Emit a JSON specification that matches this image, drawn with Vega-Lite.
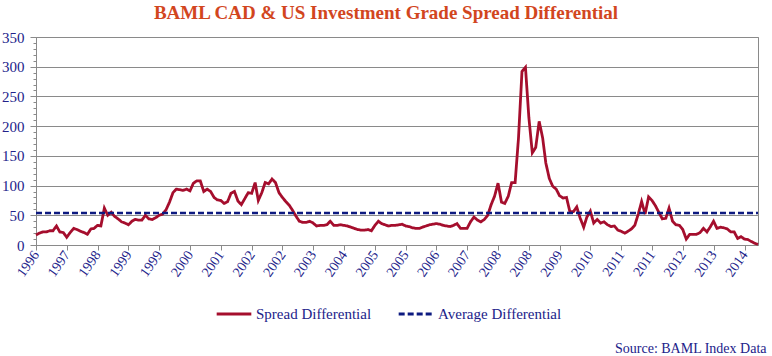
{
  "$schema": "https://vega.github.io/schema/vega-lite/v6.json",
  "width": 722,
  "height": 208,
  "autosize": {"type": "none"},
  "padding": {"left": 36, "top": 37, "right": 14, "bottom": 111},
  "background": "white",
  "title": {
    "text": "BAML CAD & US Investment Grade Spread Differential",
    "anchor": "middle",
    "dx": -11,
    "offset": 7,
    "font": "Liberation Serif, serif",
    "fontSize": 19,
    "fontWeight": "bold",
    "color": "#D2461E"
  },
  "config": {
    "font": "Liberation Serif, serif",
    "view": {"stroke": "#8a8a8a", "strokeWidth": 1},
    "axis": {
      "labelFont": "Liberation Serif, serif",
      "labelFontSize": 14,
      "labelColor": "#22228A",
      "domainColor": "#8a8a8a",
      "tickColor": "#8a8a8a"
    },
    "legend": {
      "labelFont": "Liberation Serif, serif",
      "labelFontSize": 14,
      "labelColor": "#22228A"
    }
  },
  "datasets": {
    "spread": [
      {"date": "1996-10-01", "value": 17}, {"date": "1996-11-01", "value": 20}, {"date": "1996-12-01", "value": 22},
      {"date": "1997-01-01", "value": 22}, {"date": "1997-02-01", "value": 24}, {"date": "1997-03-01", "value": 24}, {"date": "1997-04-01", "value": 32}, {"date": "1997-05-01", "value": 22}, {"date": "1997-06-01", "value": 21}, {"date": "1997-07-01", "value": 13}, {"date": "1997-08-01", "value": 21}, {"date": "1997-09-01", "value": 28}, {"date": "1997-10-01", "value": 26}, {"date": "1997-11-01", "value": 23}, {"date": "1997-12-01", "value": 21},
      {"date": "1998-01-01", "value": 18}, {"date": "1998-02-01", "value": 27}, {"date": "1998-03-01", "value": 28}, {"date": "1998-04-01", "value": 33}, {"date": "1998-05-01", "value": 32}, {"date": "1998-06-01", "value": 62}, {"date": "1998-07-01", "value": 50}, {"date": "1998-08-01", "value": 55}, {"date": "1998-09-01", "value": 48}, {"date": "1998-10-01", "value": 44}, {"date": "1998-11-01", "value": 39}, {"date": "1998-12-01", "value": 37},
      {"date": "1999-01-01", "value": 34}, {"date": "1999-02-01", "value": 40}, {"date": "1999-03-01", "value": 43}, {"date": "1999-04-01", "value": 42}, {"date": "1999-05-01", "value": 42}, {"date": "1999-06-01", "value": 50}, {"date": "1999-07-01", "value": 44}, {"date": "1999-08-01", "value": 43}, {"date": "1999-09-01", "value": 46}, {"date": "1999-10-01", "value": 50}, {"date": "1999-11-01", "value": 52}, {"date": "1999-12-01", "value": 59},
      {"date": "2000-01-01", "value": 72}, {"date": "2000-02-01", "value": 88}, {"date": "2000-03-01", "value": 94}, {"date": "2000-04-01", "value": 93}, {"date": "2000-05-01", "value": 92}, {"date": "2000-06-01", "value": 94}, {"date": "2000-07-01", "value": 91}, {"date": "2000-08-01", "value": 104}, {"date": "2000-09-01", "value": 108}, {"date": "2000-10-01", "value": 108}, {"date": "2000-11-01", "value": 90}, {"date": "2000-12-01", "value": 94},
      {"date": "2001-01-01", "value": 90}, {"date": "2001-02-01", "value": 80}, {"date": "2001-03-01", "value": 76}, {"date": "2001-04-01", "value": 75}, {"date": "2001-05-01", "value": 70}, {"date": "2001-06-01", "value": 73}, {"date": "2001-07-01", "value": 87}, {"date": "2001-08-01", "value": 90}, {"date": "2001-09-01", "value": 74}, {"date": "2001-10-01", "value": 68}, {"date": "2001-11-01", "value": 78}, {"date": "2001-12-01", "value": 88},
      {"date": "2002-01-01", "value": 87}, {"date": "2002-02-01", "value": 105}, {"date": "2002-03-01", "value": 75}, {"date": "2002-04-01", "value": 88}, {"date": "2002-05-01", "value": 105}, {"date": "2002-06-01", "value": 103}, {"date": "2002-07-01", "value": 111}, {"date": "2002-08-01", "value": 105}, {"date": "2002-09-01", "value": 88}, {"date": "2002-10-01", "value": 80}, {"date": "2002-11-01", "value": 73}, {"date": "2002-12-01", "value": 67},
      {"date": "2003-01-01", "value": 58}, {"date": "2003-02-01", "value": 48}, {"date": "2003-03-01", "value": 40}, {"date": "2003-04-01", "value": 38}, {"date": "2003-05-01", "value": 38}, {"date": "2003-06-01", "value": 40}, {"date": "2003-07-01", "value": 37}, {"date": "2003-08-01", "value": 32}, {"date": "2003-09-01", "value": 33}, {"date": "2003-10-01", "value": 33}, {"date": "2003-11-01", "value": 34}, {"date": "2003-12-01", "value": 40},
      {"date": "2004-01-01", "value": 33}, {"date": "2004-02-01", "value": 33}, {"date": "2004-03-01", "value": 34}, {"date": "2004-04-01", "value": 33}, {"date": "2004-05-01", "value": 32}, {"date": "2004-06-01", "value": 30}, {"date": "2004-07-01", "value": 28}, {"date": "2004-08-01", "value": 26}, {"date": "2004-09-01", "value": 25}, {"date": "2004-10-01", "value": 25}, {"date": "2004-11-01", "value": 26}, {"date": "2004-12-01", "value": 24},
      {"date": "2005-01-01", "value": 33}, {"date": "2005-02-01", "value": 40}, {"date": "2005-03-01", "value": 36}, {"date": "2005-04-01", "value": 34}, {"date": "2005-05-01", "value": 32}, {"date": "2005-06-01", "value": 33}, {"date": "2005-07-01", "value": 33}, {"date": "2005-08-01", "value": 34}, {"date": "2005-09-01", "value": 35}, {"date": "2005-10-01", "value": 32}, {"date": "2005-11-01", "value": 31}, {"date": "2005-12-01", "value": 29},
      {"date": "2006-01-01", "value": 28}, {"date": "2006-02-01", "value": 28}, {"date": "2006-03-01", "value": 30}, {"date": "2006-04-01", "value": 32}, {"date": "2006-05-01", "value": 34}, {"date": "2006-06-01", "value": 35}, {"date": "2006-07-01", "value": 36}, {"date": "2006-08-01", "value": 35}, {"date": "2006-09-01", "value": 33}, {"date": "2006-10-01", "value": 32}, {"date": "2006-11-01", "value": 31}, {"date": "2006-12-01", "value": 33},
      {"date": "2007-01-01", "value": 36}, {"date": "2007-02-01", "value": 28}, {"date": "2007-03-01", "value": 28}, {"date": "2007-04-01", "value": 28}, {"date": "2007-05-01", "value": 39}, {"date": "2007-06-01", "value": 47}, {"date": "2007-07-01", "value": 42}, {"date": "2007-08-01", "value": 39}, {"date": "2007-09-01", "value": 43}, {"date": "2007-10-01", "value": 50}, {"date": "2007-11-01", "value": 68}, {"date": "2007-12-01", "value": 82},
      {"date": "2008-01-01", "value": 104}, {"date": "2008-02-01", "value": 72}, {"date": "2008-03-01", "value": 70}, {"date": "2008-04-01", "value": 82}, {"date": "2008-05-01", "value": 105}, {"date": "2008-06-01", "value": 105}, {"date": "2008-07-01", "value": 180}, {"date": "2008-08-01", "value": 292}, {"date": "2008-09-01", "value": 299}, {"date": "2008-10-01", "value": 215}, {"date": "2008-11-01", "value": 155}, {"date": "2008-12-01", "value": 164},
      {"date": "2009-01-01", "value": 208}, {"date": "2009-02-01", "value": 180}, {"date": "2009-03-01", "value": 138}, {"date": "2009-04-01", "value": 112}, {"date": "2009-05-01", "value": 99}, {"date": "2009-06-01", "value": 94}, {"date": "2009-07-01", "value": 83}, {"date": "2009-08-01", "value": 79}, {"date": "2009-09-01", "value": 80}, {"date": "2009-10-01", "value": 56}, {"date": "2009-11-01", "value": 56}, {"date": "2009-12-01", "value": 64},
      {"date": "2010-01-01", "value": 45}, {"date": "2010-02-01", "value": 30}, {"date": "2010-03-01", "value": 47}, {"date": "2010-04-01", "value": 57}, {"date": "2010-05-01", "value": 37}, {"date": "2010-06-01", "value": 43}, {"date": "2010-07-01", "value": 37}, {"date": "2010-08-01", "value": 39}, {"date": "2010-09-01", "value": 34}, {"date": "2010-10-01", "value": 31}, {"date": "2010-11-01", "value": 32}, {"date": "2010-12-01", "value": 25},
      {"date": "2011-01-01", "value": 23}, {"date": "2011-02-01", "value": 20}, {"date": "2011-03-01", "value": 23}, {"date": "2011-04-01", "value": 27}, {"date": "2011-05-01", "value": 33}, {"date": "2011-06-01", "value": 52}, {"date": "2011-07-01", "value": 73}, {"date": "2011-08-01", "value": 52}, {"date": "2011-09-01", "value": 81}, {"date": "2011-10-01", "value": 75}, {"date": "2011-11-01", "value": 66}, {"date": "2011-12-01", "value": 55},
      {"date": "2012-01-01", "value": 44}, {"date": "2012-02-01", "value": 45}, {"date": "2012-03-01", "value": 62}, {"date": "2012-04-01", "value": 40}, {"date": "2012-05-01", "value": 34}, {"date": "2012-06-01", "value": 33}, {"date": "2012-07-01", "value": 26}, {"date": "2012-08-01", "value": 10}, {"date": "2012-09-01", "value": 18}, {"date": "2012-10-01", "value": 18}, {"date": "2012-11-01", "value": 18}, {"date": "2012-12-01", "value": 21},
      {"date": "2013-01-01", "value": 28}, {"date": "2013-02-01", "value": 22}, {"date": "2013-03-01", "value": 30}, {"date": "2013-04-01", "value": 40}, {"date": "2013-05-01", "value": 28}, {"date": "2013-06-01", "value": 30}, {"date": "2013-07-01", "value": 29}, {"date": "2013-08-01", "value": 27}, {"date": "2013-09-01", "value": 22}, {"date": "2013-10-01", "value": 22}, {"date": "2013-11-01", "value": 11}, {"date": "2013-12-01", "value": 14},
      {"date": "2014-01-01", "value": 10}, {"date": "2014-02-01", "value": 9}, {"date": "2014-03-01", "value": 6}, {"date": "2014-04-01", "value": 3}, {"date": "2014-05-01", "value": 1}
    ],
    "average": [
      {"date": "1996-10-01", "value": 54},
      {"date": "2014-05-01", "value": 54}
    ]
  },
  "encoding": {
    "x": {
      "field": "date",
      "type": "temporal",
      "scale": {
        "type": "utc",
        "domain": [
          {"year": 1996, "month": 10, "date": 1, "utc": true},
          {"year": 2014, "month": 5, "date": 1, "utc": true}
        ]
      },
      "axis": {
        "values": [
          {"year": 1996, "month": 10, "date": 1, "utc": true},
          {"year": 1997, "month": 7, "date": 1, "utc": true},
          {"year": 1998, "month": 4, "date": 1, "utc": true},
          {"year": 1999, "month": 1, "date": 1, "utc": true},
          {"year": 1999, "month": 10, "date": 1, "utc": true},
          {"year": 2000, "month": 7, "date": 1, "utc": true},
          {"year": 2001, "month": 4, "date": 1, "utc": true},
          {"year": 2002, "month": 1, "date": 1, "utc": true},
          {"year": 2002, "month": 10, "date": 1, "utc": true},
          {"year": 2003, "month": 7, "date": 1, "utc": true},
          {"year": 2004, "month": 4, "date": 1, "utc": true},
          {"year": 2005, "month": 1, "date": 1, "utc": true},
          {"year": 2005, "month": 10, "date": 1, "utc": true},
          {"year": 2006, "month": 7, "date": 1, "utc": true},
          {"year": 2007, "month": 4, "date": 1, "utc": true},
          {"year": 2008, "month": 1, "date": 1, "utc": true},
          {"year": 2008, "month": 10, "date": 1, "utc": true},
          {"year": 2009, "month": 7, "date": 1, "utc": true},
          {"year": 2010, "month": 4, "date": 1, "utc": true},
          {"year": 2011, "month": 1, "date": 1, "utc": true},
          {"year": 2011, "month": 10, "date": 1, "utc": true},
          {"year": 2012, "month": 7, "date": 1, "utc": true},
          {"year": 2013, "month": 4, "date": 1, "utc": true},
          {"year": 2014, "month": 1, "date": 1, "utc": true}
        ],
        "format": "%Y",
        "labelFont": "Liberation Serif, serif",
        "labelFontSize": 14,
        "labelColor": "#22228A",
        "labelAngle": -55,
        "labelAlign": "right",
        "labelBaseline": "middle",
        "labelPadding": 2,
        "labelOverlap": false,
        "tickSize": 5,
        "grid": false,
        "title": "Source: BAML Index Data",
        "titleFont": "Liberation Serif, serif",
        "titleFontSize": 14,
        "titleFontWeight": "normal",
        "titleColor": "#22228A",
        "titleAnchor": "end",
        "titleAlign": "right",
        "titleBaseline": "alphabetic",
        "titleX": 730,
        "titleY": 107
      }
    },
    "y": {
      "field": "value",
      "type": "quantitative",
      "scale": {"domain": [0, 350], "nice": false},
      "axis": {
        "values": [0, 10, 20, 30, 40, 50, 60, 70, 80, 90, 100, 110, 120, 130, 140, 150, 160, 170, 180, 190, 200, 210, 220, 230, 240, 250, 260, 270, 280, 290, 300, 310, 320, 330, 340, 350],
        "labelExpr": "datum.value % 50 === 0 ? datum.label : ''",
        "labelFont": "Liberation Serif, serif",
        "labelFontSize": 15,
        "labelColor": "#22228A",
        "labelOverlap": false,
        "labelPadding": 6,
        "tickSize": {"condition": {"test": "datum.value % 50 === 0", "value": 6}, "value": 3},
        "grid": true,
        "gridColor": "#8a8a8a",
        "gridOpacity": {"condition": {"test": "datum.value % 50 === 0 && datum.value > 0", "value": 1}, "value": 0},
        "title": null
      }
    }
  },
  "layer": [
    {
      "data": {"name": "spread"},
      "mark": {"type": "line", "strokeWidth": 2.8, "interpolate": "linear"},
      "encoding": {
        "color": {
          "datum": "Spread Differential",
          "type": "nominal",
          "scale": {"domain": ["Spread Differential", "Average Differential"], "range": ["#A50E2D", "#0D1A80"]},
          "legend": {
            "orient": "none",
            "legendX": 179,
            "legendY": 258,
            "direction": "horizontal",
            "title": null,
            "labelFont": "Liberation Serif, serif",
            "labelFontSize": 15,
            "labelColor": "#22228A",
            "symbolType": "stroke",
            "symbolSize": 1200,
            "symbolStrokeWidth": 3,
            "labelOffset": 3,
            "columnPadding": 20
          }
        },
        "strokeDash": {
          "datum": "Spread Differential",
          "type": "nominal",
          "scale": {"domain": ["Spread Differential", "Average Differential"], "range": [[1, 0], [6, 3]]}
        }
      }
    },
    {
      "data": {"name": "average"},
      "mark": {"type": "line", "strokeWidth": 2.5},
      "encoding": {
        "color": {"datum": "Average Differential", "type": "nominal"},
        "strokeDash": {"datum": "Average Differential", "type": "nominal"}
      }
    }
  ]
}
